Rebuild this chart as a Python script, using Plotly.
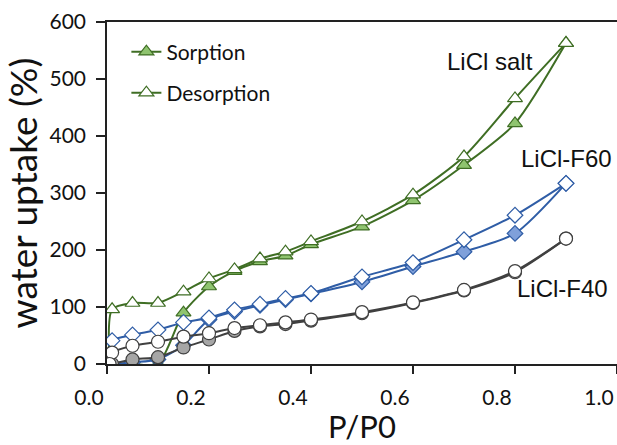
import plotly.graph_objects as go

# Relative pressure steps (sorption goes up, desorption comes back down)
p_sorp = [0.01, 0.05, 0.10, 0.15, 0.20, 0.25, 0.30, 0.35, 0.40, 0.50, 0.60, 0.70, 0.80, 0.90]
p_desorp = [0.90, 0.80, 0.70, 0.60, 0.50, 0.40, 0.35, 0.30, 0.25, 0.20, 0.15, 0.10, 0.05, 0.01, 0.005]

# Water uptake (%)
licl_sorp = [0, 0, 0, 90, 136, 163, 180, 190, 210, 241, 287, 349, 422, 563]
licl_desorp = [563, 466, 364, 297, 250, 215, 197, 185, 166, 150, 127, 107, 107, 96, 0]

f60_sorp = [0, 3, 8, 33, 78, 92, 103, 113, 123, 144, 171, 197, 229, 317]
f60_desorp = [317, 261, 218, 178, 153, 124, 115, 105, 95, 81, 73, 60, 51, 41, 0]

f40_sorp = [0, 8, 12, 29, 43, 58, 66, 70, 76, 89, 107, 129, 161, 220]
f40_desorp = [220, 163, 130, 108, 91, 78, 73, 68, 63, 54, 48, 39, 32, 20, 0]

x_ticks = [0.0, 0.2, 0.4, 0.6, 0.8, 1.0]
y_ticks = [0, 100, 200, 300, 400, 500, 600]

GREEN_LINE = "#3f6e24"
GREEN_FILL = "#8fc46f"
BLUE_LINE = "#2f5da6"
BLUE_FILL = "#7fa0da"
GREY_LINE = "#404040"
GREY_FILL = "#a6a6a6"

fig = go.Figure()


def add_series(x, y, line_color, symbol, fill, size, name=None, legend=None):
    fig.add_trace(go.Scatter(
        x=x, y=y, mode="lines+markers",
        line=dict(color=line_color, width=2, shape="spline", smoothing=0.7),
        marker=dict(symbol=symbol, size=size, color=fill,
                    line=dict(color=line_color, width=1.2)),
        name=name or "", showlegend=legend is not None,
        legend=legend or "legend",
    ))


# LiCl salt
add_series(p_sorp, licl_sorp, GREEN_LINE, "triangle-up", GREEN_FILL, 13, "Sorption", "legend")
add_series(p_desorp, licl_desorp, GREEN_LINE, "triangle-up", "white", 13, "Desorption", "legend2")
# LiCl-F60
add_series(p_sorp, f60_sorp, BLUE_LINE, "diamond", BLUE_FILL, 12)
add_series(p_desorp, f60_desorp, BLUE_LINE, "diamond", "white", 12)
# LiCl-F40
add_series(p_sorp, f40_sorp, GREY_LINE, "circle", GREY_FILL, 13)
add_series(p_desorp, f40_desorp, GREY_LINE, "circle", "white", 13)

tick_font = dict(family="Lato", size=21, color="#111111")
legend_common = dict(
    font=dict(family="Lato", size=21, color="#111111"),
    bgcolor="rgba(0,0,0,0)", xanchor="left", yanchor="middle",
    itemwidth=30,
)

fig.update_layout(
    width=617, height=445,
    margin=dict(l=107, r=0, t=22, b=81, autoexpand=False),
    paper_bgcolor="white", plot_bgcolor="white",
    legend=dict(x=0.038, y=1 - (52 - 22) / 342, **legend_common),
    legend2=dict(x=0.038, y=1 - (93 - 22) / 342, **legend_common),
    xaxis=dict(
        range=[0, 1.0], tickvals=x_ticks, ticktext=[f"{v:.1f}" for v in x_ticks],
        showline=True, linecolor="#222222", linewidth=1.5, mirror=True,
        ticks="outside", ticklen=8, tickcolor="#222222", tickwidth=1.5,
        tickfont=tick_font, ticklabelshift=-18, ticklabelstandoff=6,
        showgrid=False, zeroline=False, automargin=True,
        title=dict(text="P/P0", font=dict(family="Lato", size=31, color="#111111"), standoff=16),
    ),
    yaxis=dict(
        range=[0, 600], tickvals=y_ticks,
        showline=True, linecolor="#222222", linewidth=1.5,
        ticks="outside", ticklen=9, tickcolor="#222222", tickwidth=1.5,
        tickfont=tick_font, ticklabelstandoff=6,
        showgrid=False, zeroline=False, automargin=True,
        title=dict(text="water uptake (%)", font=dict(family="Lato", size=37, color="#111111"), standoff=4),
    ),
)

label_font = dict(family="Liberation Sans", size=24, color="#111111")
fig.add_annotation(x=0.75, y=530, text="LiCl salt", showarrow=False, font=label_font)
fig.add_annotation(x=0.90, y=361, text="LiCl-F60", showarrow=False, font=label_font)
fig.add_annotation(x=0.894, y=133, text="LiCl-F40", showarrow=False, font=label_font)

fig.write_html("out.html")
